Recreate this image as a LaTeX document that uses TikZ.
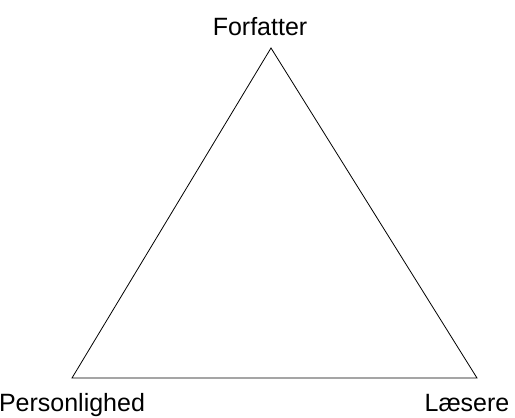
\documentclass[tikz,border=0pt]{standalone}
\usepackage{fontspec}
\setmainfont{Liberation Sans}
\usetikzlibrary{positioning}
\tikzset{corner/.style={font=\fontsize{25}{29}\selectfont, inner sep=0pt, anchor=base}}

\begin{document}
\begin{tikzpicture}[x=1pt, y=-1pt]
\useasboundingbox (0, 0) rectangle (515, 418);
\coordinate (top) at (271, 48);
\coordinate (left) at (72, 378);
\coordinate (right) at (477, 378);
\draw[line width=0.8pt, line join=miter] (top) -- (left) -- (right) -- cycle;
\node[corner] (author) at (260, 35) {Forfatter};
\node[corner] (person) at (72, 411) {Personlighed};
\node[corner] (reader) at (467, 411) {Læsere};
\end{tikzpicture}
\end{document}
